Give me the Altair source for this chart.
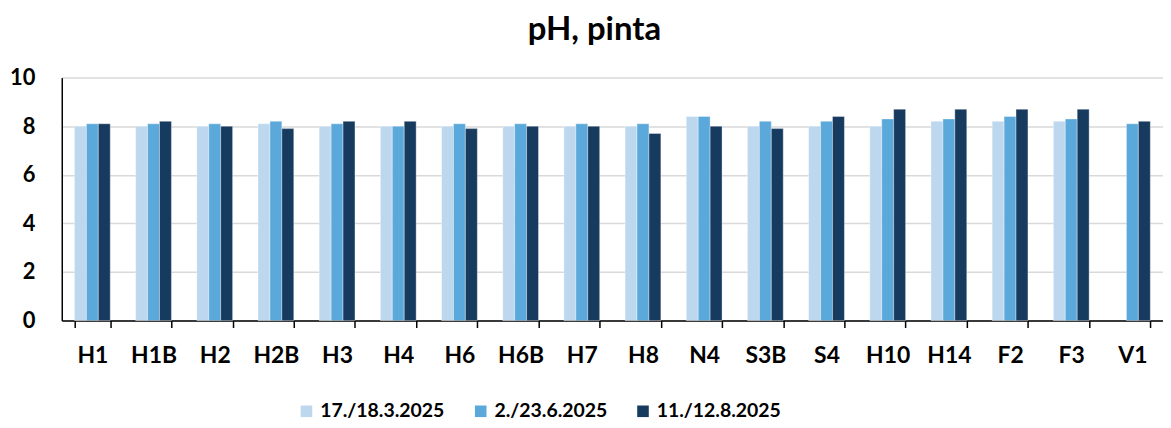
import altair as alt
import pandas as pd

sites = ["H1", "H1B", "H2", "H2B", "H3", "H4", "H6", "H6B", "H7", "H8",
         "N4", "S3B", "S4", "H10", "H14", "F2", "F3", "V1"]
series = ["17./18.3.2025", "2./23.6.2025", "11./12.8.2025"]
mar = [8.0, 8.0, 8.0, 8.1, 8.0, 8.0, 8.0, 8.0, 8.0, 8.0,
       8.4, 8.0, 8.0, 8.0, 8.2, 8.2, 8.2, None]
jun = [8.1, 8.1, 8.1, 8.2, 8.1, 8.0, 8.1, 8.1, 8.1, 8.1,
       8.4, 8.2, 8.2, 8.3, 8.3, 8.4, 8.3, 8.1]
aug = [8.1, 8.2, 8.0, 7.9, 8.2, 8.2, 7.9, 8.0, 8.0, 7.7,
       8.0, 7.9, 8.4, 8.7, 8.7, 8.7, 8.7, 8.2]
colors = ["#BDD7EE", "#5BA9DB", "#173A5F"]

rows = []
for s, vals in zip(series, [mar, jun, aug]):
    for site, v in zip(sites, vals):
        if v is not None:
            rows.append({"site": site, "series": s, "value": v})
df = pd.DataFrame(rows)

FONT = "Lato"

chart = alt.Chart(df).mark_bar(stroke="white", strokeWidth=0.6, strokeOpacity=0.6).encode(
    x=alt.X("site:N", sort=sites, title=None,
            scale=alt.Scale(paddingInner=0.415, paddingOuter=0.2075),
            axis=alt.Axis(labelAngle=0, labelFont=FONT, labelFontSize=23,
                          labelFontWeight="bold", labelColor="black",
                          labelPadding=17, tickBand="extent", tickSize=7,
                          tickColor="black", tickWidth=1.5,
                          domainColor="black", domainWidth=1.5)),
    xOffset=alt.XOffset("series:N", sort=series),
    y=alt.Y("value:Q", title=None,
            scale=alt.Scale(domain=[0, 10]),
            axis=alt.Axis(values=[0, 2, 4, 6, 8, 10], labelFont=FONT, labelFontSize=22,
                          labelFontWeight="bold", labelColor="black", labelPadding=27,
                          ticks=False, gridColor="#D9D9D9", gridWidth=1.5,
                          domainColor="black", domainWidth=1.5)),
    color=alt.Color("series:N", sort=series,
                    scale=alt.Scale(domain=series, range=colors),
                    legend=alt.Legend(title=None, orient="none", direction="horizontal",
                                      legendX=236, legendY=325,
                                      labelFont=FONT, labelFontSize=19.5,
                                      labelFontWeight="bold", labelColor="black",
                                      symbolType="square", symbolSize=135,
                                      symbolStrokeWidth=0, columnPadding=26,
                                      labelOffset=4)),
).properties(
    width=1106, height=244,
    padding={"left": 1, "top": 5, "right": 0, "bottom": 5},
    title=alt.Title("pH, pinta", font=FONT, fontSize=33, fontWeight="bold",
                    color="black", anchor="middle", offset=17, dx=-18, dy=-3),
).configure_view(stroke=None)

chart.save("out.html", embed_options={"renderer": "svg", "actions": False})
